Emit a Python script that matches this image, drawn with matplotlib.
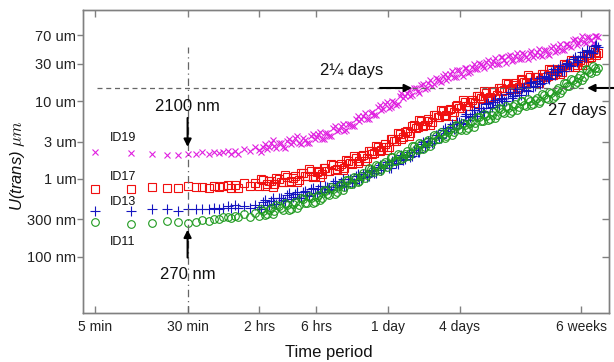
import matplotlib
matplotlib.use("Agg")
import matplotlib.pyplot as plt
from matplotlib.ticker import NullLocator, FixedLocator, FixedFormatter

plt.rcParams['font.family'] = ['Liberation Sans', 'DejaVu Sans']
plt.rcParams['mathtext.fontset'] = 'cm'

# time in minutes (main samples)
times = [5, 10, 15, 20, 25, 30, 35, 40, 45, 50, 55, 60, 65, 70, 75, 80, 90, 100, 110, 120,
         130, 140, 150, 160, 175, 190, 205, 220, 240, 260, 280, 300, 325, 350, 375, 400,
         430, 460, 500, 540, 580, 620, 670, 720, 770, 830, 890, 960, 1030, 1100, 1180,
         1270, 1360, 1460, 1570, 1680, 1800, 1930, 2070, 2220, 2380, 2550, 2740, 2940,
         3150, 3380, 3620, 3880, 4160, 4460, 4780, 5130, 5500, 5900, 6320, 6780, 7270,
         7800, 8360, 8960, 9610, 10300, 11050, 11850, 12700, 13620, 14600, 15660, 16790,
         18000, 19300, 20700, 22200, 23800, 25500, 27400, 29400, 31500, 33800, 36200,
         38800, 41600, 44600, 47800, 51300, 55000, 59000, 63200, 67800, 72700, 78000, 83600]

# additional samples inside the dense part of the cloud (minutes)
times_b = [125, 135, 145, 155, 167, 182, 197, 212, 230, 250,
           270, 290, 312, 337, 362, 387, 415, 445, 480, 520,
           560, 600, 645, 695, 745, 800, 860, 925, 995, 1065,
           1140, 1225, 1315, 1410, 1515, 1625, 1740, 1865, 2000, 2145,
           2300, 2465, 2645, 2840, 3045, 3265, 3500, 3750, 4020, 4310,
           4620, 4950, 5310, 5700, 6110, 6550, 7020, 7530, 8080, 8660,
           9280, 9950, 10670, 11450, 12270, 13150, 14100, 15120, 16220, 17380,
           18640, 19990, 21440, 22990, 24630, 26430, 28380, 30430, 32630, 34980,
           37480, 40180, 43070, 46170, 49520, 53120, 56970, 61060, 65460, 70210,
           75300, 80750]

# U(trans) in micrometres
id19 = [2.24, 2.13, 2.07, 2.05, 2.05, 2.09, 2.07, 2.19, 2.10, 2.18, 2.12, 2.20,
        2.29, 2.11, 2.29, 2.10, 2.40, 2.28, 2.55, 2.33,
        2.56, 2.39, 2.87, 2.61, 2.88, 2.58, 3.10, 2.82, 3.39, 2.88,
        3.30, 2.92, 3.52, 3.27, 3.74, 3.27, 3.85, 3.51, 4.56, 4.08,
        4.80, 4.17, 5.02, 4.80, 5.94, 5.48, 6.49, 5.85, 7.10, 6.65,
        8.45, 7.62, 9.02, 8.13, 9.89, 8.89, 11.6, 10.9, 12.7, 11.7,
        14.9, 13.5, 15.9, 14.2, 17.0, 15.8, 19.9, 18.1, 20.7, 18.5,
        22.0, 20.4, 24.8, 22.5, 26.2, 22.6, 27.6, 25.6, 31.2, 28.0,
        32.2, 28.1, 33.1, 30.3, 36.5, 33.3, 37.4, 32.7, 38.4, 34.8,
        41.6, 36.8, 42.0, 36.4, 42.5, 38.5, 45.0, 40.8, 48.6, 42.9,
        49.8, 44.9, 54.7, 50.5, 60.0, 52.8, 61.5, 57.7, 66.5, 61.0, 68.7, 65.9]
id19_b = [2.18, 2.77, 2.58, 3.12, 2.47, 2.87, 2.47, 3.26, 2.95, 3.54,
          2.84, 3.17, 2.87, 3.80, 3.43, 4.00, 3.20, 3.86, 3.51, 4.75,
          4.22, 5.07, 4.23, 5.01, 4.78, 6.40, 5.87, 7.03, 5.83, 7.22,
          6.57, 8.84, 7.90, 9.69, 8.29, 9.58, 9.12, 12.6, 11.6, 13.9,
          12.0, 14.9, 12.8, 16.6, 14.8, 18.5, 16.4, 19.4, 17.3, 22.0,
          19.8, 24.2, 20.3, 24.8, 21.2, 26.8, 23.8, 30.1, 26.1, 30.2,
          26.8, 33.8, 30.0, 36.1, 30.1, 36.6, 30.8, 38.6, 33.8, 41.4,
          35.1, 40.0, 35.1, 43.9, 38.7, 46.2, 37.6, 45.0, 38.9, 50.3,
          44.0, 53.5, 45.8, 53.7, 49.2, 63.2, 56.0, 67.9, 55.9, 66.9,
          56.4, 68.0]

id17 = [0.745, 0.738, 0.783, 0.75, 0.76, 0.80, 0.776, 0.794, 0.767, 0.804, 0.776, 0.813,
        0.832, 0.76, 0.82, 0.769, 0.877, 0.813, 0.883, 0.80,
        0.959, 0.849, 0.946, 0.855, 1.00, 0.91, 1.06, 0.929, 1.08, 0.966,
        1.17, 1.07, 1.26, 1.10, 1.27, 1.14, 1.38, 1.27, 1.51, 1.34,
        1.55, 1.39, 1.69, 1.56, 1.87, 1.69, 2.00, 1.85, 2.29, 2.14,
        2.59, 2.34, 2.76, 2.56, 3.23, 3.08, 3.78, 3.45, 4.17, 3.88,
        4.88, 4.57, 5.52, 4.94, 5.83, 5.33, 6.59, 6.18, 7.45, 6.67,
        7.83, 7.14, 8.77, 8.18, 9.82, 8.75, 10.3, 9.35, 11.5, 10.7,
        12.8, 11.4, 13.3, 12.1, 14.8, 13.8, 16.5, 14.7, 17.1, 15.3,
        18.6, 17.1, 20.2, 17.8, 20.6, 18.5, 22.4, 20.7, 24.8, 22.1,
        25.9, 23.7, 29.0, 27.1, 32.6, 29.0, 34.0, 32.0, 38.7, 36.4, 43.1, 41.4]
id17_b = [1.00, 0.814, 0.943, 0.783, 1.02, 0.907, 1.11, 0.915, 1.03, 0.91,
          1.20, 1.10, 1.33, 1.06, 1.24, 1.05, 1.39, 1.26, 1.57, 1.31,
          1.47, 1.31, 1.72, 1.59, 1.96, 1.60, 1.94, 1.67, 2.28, 2.10,
          2.67, 2.27, 2.60, 2.37, 3.24, 3.09, 3.91, 3.25, 4.00, 3.50,
          4.82, 4.49, 5.70, 4.81, 5.49, 4.97, 6.68, 6.26, 7.77, 6.35,
          7.61, 6.51, 8.75, 8.05, 10.2, 8.54, 9.72, 8.74, 11.7, 10.9,
          13.4, 10.9, 13.0, 11.0, 14.8, 13.6, 17.1, 14.4, 16.2, 14.4,
          19.0, 17.5, 21.3, 17.1, 20.2, 17.0, 22.5, 20.5, 25.7, 21.6,
          24.5, 22.1, 29.5, 27.5, 34.0, 27.7, 33.1, 28.7, 38.9, 35.7,
          44.9, 38.9]

id13 = [0.389, 0.389, 0.407, 0.407, 0.389, 0.403, 0.407, 0.412, 0.407, 0.417, 0.412, 0.427,
        0.447, 0.427, 0.457, 0.427, 0.447, 0.417, 0.462, 0.438,
        0.507, 0.455, 0.525, 0.469, 0.571, 0.526, 0.624, 0.546, 0.632, 0.566,
        0.685, 0.627, 0.741, 0.649, 0.746, 0.667, 0.811, 0.745, 0.889, 0.785,
        0.91, 0.817, 0.995, 0.916, 1.09, 0.977, 1.15, 1.04, 1.28, 1.19,
        1.43, 1.28, 1.50, 1.37, 1.70, 1.59, 1.93, 1.73, 2.05, 1.88,
        2.34, 2.24, 2.77, 2.53, 3.05, 2.86, 3.61, 3.45, 4.27, 3.90,
        4.68, 4.35, 5.44, 5.19, 6.34, 5.77, 6.90, 6.41, 8.04, 7.55,
        9.12, 8.13, 9.57, 8.77, 10.8, 10.1, 12.2, 10.9, 12.9, 11.8,
        14.7, 13.9, 16.9, 15.2, 18.1, 16.7, 20.7, 19.5, 23.9, 21.7,
        26.0, 24.2, 30.3, 28.8, 35.2, 32.0, 38.3, 36.4, 44.7, 42.5, 50.8, 49.4]
id13_b = [0.411, 0.529, 0.466, 0.562, 0.478, 0.559, 0.512, 0.655, 0.577, 0.683,
          0.563, 0.689, 0.595, 0.765, 0.663, 0.798, 0.68, 0.794, 0.727, 0.937,
          0.831, 0.984, 0.815, 1.00, 0.873, 1.14, 1.01, 1.24, 1.07, 1.26,
          1.17, 1.52, 1.36, 1.64, 1.38, 1.73, 1.53, 2.01, 1.80, 2.22,
          1.94, 2.34, 2.23, 2.97, 2.73, 3.37, 2.91, 3.71, 3.36, 4.49,
          4.08, 5.10, 4.50, 5.42, 5.13, 6.78, 6.21, 7.59, 6.50, 8.18,
          7.25, 9.49, 8.41, 10.4, 9.00, 10.7, 9.92, 12.9, 11.7, 14.1,
          11.9, 15.0, 13.4, 17.7, 15.8, 19.7, 17.2, 20.5, 19.3, 25.5,
          23.4, 28.6, 24.5, 31.0, 27.8, 37.0, 33.4, 42.2, 37.3, 44.5,
          41.5, 52.0]

id11 = [0.275, 0.262, 0.27, 0.284, 0.279, 0.27, 0.282, 0.295, 0.288, 0.305, 0.302, 0.32,
        0.327, 0.309, 0.333, 0.321, 0.352, 0.327, 0.366, 0.336,
        0.387, 0.355, 0.418, 0.381, 0.452, 0.396, 0.457, 0.411, 0.502, 0.465,
        0.552, 0.485, 0.565, 0.509, 0.618, 0.571, 0.693, 0.621, 0.74, 0.682,
        0.845, 0.791, 0.962, 0.863, 1.02, 0.946, 1.17, 1.11, 1.35, 1.21,
        1.45, 1.33, 1.66, 1.56, 1.90, 1.70, 2.01, 1.85, 2.29, 2.15,
        2.61, 2.34, 2.77, 2.55, 3.16, 2.96, 3.60, 3.23, 3.82, 3.51,
        4.31, 4.0, 4.79, 4.26, 4.98, 4.53, 5.55, 5.15, 6.17, 5.47,
        6.41, 5.82, 7.13, 6.62, 7.93, 7.03, 8.22, 7.48, 9.12, 8.38,
        9.93, 8.73, 10.1, 9.08, 11.0, 10.1, 12.0, 10.5, 12.6, 11.7,
        14.7, 14.0, 17.1, 15.6, 18.6, 17.3, 21.7, 20.6, 25.1, 22.6, 26.9, 26.6]
id11_b = [0.408, 0.341, 0.394, 0.356, 0.466, 0.416, 0.486, 0.391, 0.479, 0.421,
          0.559, 0.493, 0.593, 0.494, 0.575, 0.529, 0.708, 0.644, 0.776, 0.64,
          0.802, 0.712, 0.964, 0.867, 1.06, 0.904, 1.08, 1.01, 1.38, 1.25,
          1.52, 1.25, 1.57, 1.40, 1.90, 1.71, 2.10, 1.78, 2.11, 1.98,
          2.67, 2.43, 2.91, 2.39, 3.00, 2.66, 3.61, 3.24, 3.98, 3.37,
          3.99, 3.70, 4.92, 4.43, 5.27, 4.28, 5.29, 4.65, 6.23, 5.53,
          6.71, 5.63, 6.60, 6.12, 8.15, 7.33, 8.69, 7.07, 8.72, 7.61,
          10.1, 8.86, 10.6, 8.82, 10.2, 9.39, 12.4, 11.0, 13.2, 10.9,
          13.9, 12.5, 17.1, 15.5, 19.3, 16.5, 19.9, 18.8, 25.6, 23.4,
          28.2, 24.1]

xtick_vals = [5, 30, 120, 360, 1440, 5760, 60480]
xtick_labels = ['5 min', '30 min', '2 hrs', '6 hrs', '1 day', '4 days', '6 weeks']
ytick_vals = [0.1, 0.3, 1, 3, 10, 30, 70]
ytick_labels = ['100 nm', '300 nm', '1 um', '3 um', '10 um', '30 um', '70 um']

series_names = ['ID19', 'ID17', 'ID13', 'ID11']
label_vals = [3.36, 1.06, 0.507, 0.156]

gray = '#808080'
fig = plt.figure(figsize=(6.14, 3.62), dpi=100)
ax = fig.add_axes([83.3/614, 49/362, (609.3-83.3)/614, 303/362])

styles = [
    (id19, id19_b, dict(marker='x', ms=5, mew=0.8, color='#e020e0')),
    (id17, id17_b, dict(marker='s', ms=5.5, mew=0.8, mec='#f01010', mfc='none')),
    (id13, id13_b, dict(marker='+', ms=6.5, mew=0.8, color='#1515c0')),
    (id11, id11_b, dict(marker='o', ms=5.5, mew=0.8, mec='#1f9a1f', mfc='none')),
]
for vals, vals_b, st in styles:
    ax.plot(times + times_b, vals + vals_b, ls='none', **st)

ax.set_xscale('log')
ax.set_yscale('log')
ax.set_xlim(4.0, 103600)
ax.set_ylim(0.0188, 148)

ax.xaxis.set_major_locator(FixedLocator(xtick_vals))
ax.xaxis.set_major_formatter(FixedFormatter(xtick_labels))
ax.xaxis.set_minor_locator(NullLocator())
ax.yaxis.set_major_locator(FixedLocator(ytick_vals))
ax.yaxis.set_major_formatter(FixedFormatter(ytick_labels))
ax.yaxis.set_minor_locator(NullLocator())

ax.tick_params(axis='x', direction='in', top=True, length=5, width=1, color=gray,
               labelsize=10, pad=5, labelcolor='#222222')
ax.tick_params(axis='y', direction='out', length=4, width=1, color=gray,
               labelsize=10.5, pad=1, labelcolor='#222222')
for s in ax.spines.values():
    s.set_color(gray)
    s.set_linewidth(1)

ax2 = ax.twinx()
ax2.set_yscale('log')
ax2.set_ylim(ax.get_ylim())
ax2.yaxis.set_major_locator(FixedLocator(ytick_vals))
ax2.yaxis.set_minor_locator(NullLocator())
ax2.tick_params(axis='y', direction='in', length=5, width=1, color=gray, labelright=False)
for s in ax2.spines.values():
    s.set_color(gray)
    s.set_linewidth(1)

# reference lines
ax.axvline(30, ymin=0, ymax=0.878, color='#666666', lw=0.9, ls=(0, (6, 3, 1, 3)))
ax.plot([5.2, 67450], [14.7, 14.7], color='#666666', lw=0.9, ls=(0, (4, 3)))

arrow = dict(arrowstyle='-|>', color='black', lw=1.5, mutation_scale=11, shrinkA=0, shrinkB=0)
ax.annotate('', xy=(30, 2.57), xytext=(30, 6.05), arrowprops=arrow)
ax.annotate('', xy=(30, 0.222), xytext=(30, 0.097), arrowprops=arrow)
ax.annotate('', xy=(2291, 14.7), xytext=(1236, 14.7), arrowprops=arrow)
ax.annotate('', xy=(67450, 14.7), xytext=(113800, 14.7), arrowprops=arrow,
            annotation_clip=False)

ax.text(30, 8.4, '2100 nm', ha='center', va='center', fontsize=12, color='#111111')
ax.text(30, 0.0588, '270 nm', ha='center', va='center', fontsize=12, color='#111111')
ax.text(710, 24.9, '2\u00bc days', ha='center', va='center', fontsize=12, color='#111111')
ax.text(31770, 7.45, '27 days', ha='left', va='center', fontsize=12, color='#111111',
        clip_on=False)

for name, v in zip(series_names, label_vals):
    ax.text(6.7, v, name, ha='left', va='center', fontsize=9, color='#111111')

fig.text(18/614, 1 - 166/362, 'U(trans) $\\mu m$', rotation=90, ha='center', va='center',
         fontsize=12, fontstyle='italic', color='#111111')
fig.text(329/614, 1 - 352/362, 'Time period', ha='center', va='center', fontsize=12,
         color='#111111')

fig.savefig('out.png', dpi=100)
